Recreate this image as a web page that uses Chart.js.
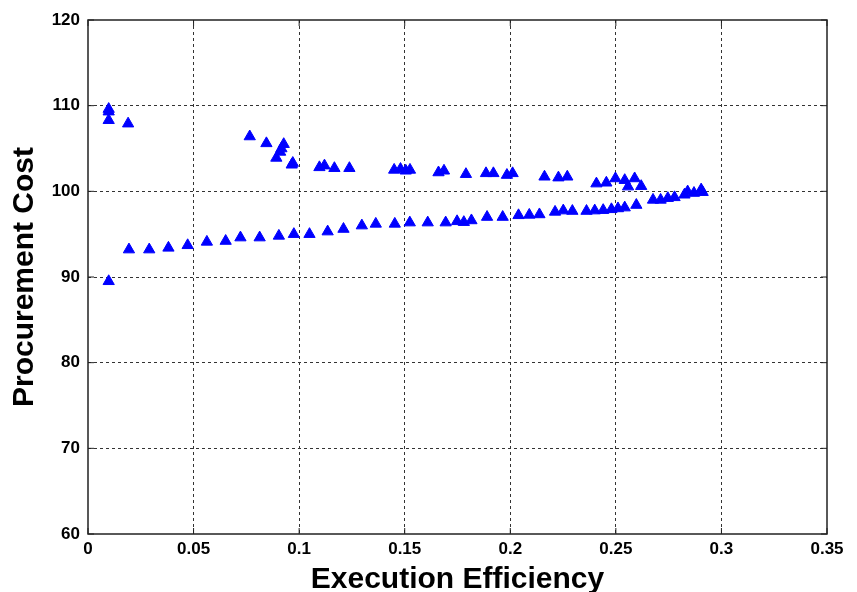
<!DOCTYPE html>
<html>
<head>
<meta charset="utf-8">
<script src="https://cdn.jsdelivr.net/npm/chart.js@4/dist/chart.umd.min.js"></script>
<style>
  html, body { margin: 0; padding: 0; background: #fff; }
  #wrap { width: 857px; height: 592px; }
</style>
</head>
<body>
<div id="wrap"><canvas id="chart" width="857" height="592"></canvas></div>
<script>
// 坐标轴刻度
const xTicks = [0, 0.05, 0.1, 0.15, 0.2, 0.25, 0.3, 0.35];
const yTicks = [60, 70, 80, 90, 100, 110, 120];

// 上支：成本较高的点
const upperEff = [0.0098, 0.0098, 0.0098, 0.019, 0.0766, 0.0845, 0.0927, 0.0916, 0.091, 0.0892,
  0.097, 0.0965, 0.1096, 0.112, 0.1167, 0.1238, 0.145, 0.148, 0.1505, 0.1525,
  0.166, 0.1686, 0.179, 0.1885, 0.192, 0.1984, 0.2011, 0.2162, 0.2228, 0.227,
  0.2408, 0.2455, 0.2498, 0.2542, 0.2589, 0.2558, 0.262];
const upperCost = [109.6, 109.3, 108.3, 107.9, 106.4, 105.6, 105.5, 105.0, 104.6, 103.9,
  103.3, 103.1, 102.8, 103.0, 102.7, 102.7, 102.5, 102.6, 102.4, 102.5,
  102.2, 102.4, 102.0, 102.1, 102.1, 101.9, 102.1, 101.7, 101.6, 101.7,
  100.9, 101.0, 101.5, 101.3, 101.5, 100.55, 100.6];

// 下支：成本较低的点
const lowerEff = [0.0098, 0.0194, 0.029, 0.0381, 0.0472, 0.0563, 0.0652, 0.0722, 0.0813, 0.0904,
  0.0975, 0.1049, 0.1135, 0.121, 0.1297, 0.1363, 0.1453, 0.1524, 0.1609, 0.1694,
  0.1748, 0.178, 0.1816, 0.189, 0.1964, 0.2039, 0.209, 0.2138, 0.2212, 0.2251,
  0.2294, 0.2361, 0.24, 0.244, 0.2479, 0.251, 0.2542, 0.2597, 0.2676, 0.2712,
  0.2746, 0.2778, 0.2825, 0.284, 0.287, 0.2904, 0.2911];
const lowerCost = [89.5, 93.2, 93.2, 93.4, 93.7, 94.1, 94.2, 94.6, 94.6, 94.8,
  95.0, 95.0, 95.3, 95.6, 96.0, 96.2, 96.2, 96.35, 96.35, 96.35,
  96.5, 96.4, 96.6, 97.0, 97.0, 97.2, 97.25, 97.3, 97.6, 97.75,
  97.7, 97.7, 97.75, 97.8, 97.9, 98.0, 98.1, 98.4, 99.0, 99.0,
  99.2, 99.3, 99.6, 99.97, 99.8, 100.2, 99.9];

const points = [
  ...upperEff.map((x, i) => ({ x, y: upperCost[i] })),
  ...lowerEff.map((x, i) => ({ x, y: lowerCost[i] }))
];

const FONT = 'Liberation Sans, Arial, sans-serif';

// 画外框和内向刻度（MATLAB 风格）
const boxPlugin = {
  id: 'box',
  afterDraw(chart) {
    const { ctx, chartArea: a, scales } = chart;
    ctx.save();
    ctx.strokeStyle = '#222';
    ctx.lineWidth = 1.5;
    ctx.setLineDash([]);
    ctx.strokeRect(a.left, a.top, a.right - a.left, a.bottom - a.top);
    ctx.lineWidth = 1;
    for (const v of xTicks) {
      const px = scales.x.getPixelForValue(v);
      ctx.beginPath();
      ctx.moveTo(px, a.bottom); ctx.lineTo(px, a.bottom - 6);
      ctx.moveTo(px, a.top); ctx.lineTo(px, a.top + 6);
      ctx.stroke();
    }
    for (const v of yTicks) {
      const py = scales.y.getPixelForValue(v);
      ctx.beginPath();
      ctx.moveTo(a.left, py); ctx.lineTo(a.left + 6, py);
      ctx.moveTo(a.right, py); ctx.lineTo(a.right - 6, py);
      ctx.stroke();
    }
    ctx.restore();
  }
};

new Chart(document.getElementById('chart'), {
  type: 'scatter',
  data: {
    datasets: [{
      data: points,
      pointStyle: 'triangle',
      pointRadius: 6.5,
      pointHoverRadius: 6.5,
      backgroundColor: '#0000ff',
      borderColor: '#0000ff',
      borderWidth: 1
    }]
  },
  options: {
    responsive: false,
    animation: false,
    layout: { padding: { top: 20, right: 30, left: 0, bottom: 0 } },
    plugins: { legend: { display: false }, tooltip: { enabled: false } },
    scales: {
      x: {
        type: 'linear',
        min: 0,
        max: 0.35,
        afterBuildTicks: (s) => { s.ticks = xTicks.map(v => ({ value: v })); },
        afterFit: (s) => { s.height = 58; },
        ticks: {
          color: '#000',
          font: { family: FONT, size: 17, weight: 'bold' },
          padding: 5,
          maxRotation: 0,
          callback: (v) => String(v)
        },
        grid: {
          color: (c) => (c.tick && (c.tick.value === 0 || c.tick.value === 0.35)) ? 'rgba(0,0,0,0)' : '#333',
          lineWidth: 1,
          drawTicks: false
        },
        border: { display: false, dash: [3, 3] },
        title: {
          display: true,
          text: 'Execution Efficiency',
          color: '#000',
          font: { family: FONT, size: 30, weight: 'bold', lineHeight: 0.8 },
          padding: { top: 0, bottom: 0 }
        }
      },
      y: {
        type: 'linear',
        min: 60,
        max: 120,
        afterBuildTicks: (s) => { s.ticks = yTicks.map(v => ({ value: v })); },
        afterFit: (s) => { s.width = 88; },
        ticks: {
          color: '#000',
          font: { family: FONT, size: 17, weight: 'bold' },
          padding: 8
        },
        grid: {
          color: (c) => (c.tick && (c.tick.value === 60 || c.tick.value === 120)) ? 'rgba(0,0,0,0)' : '#333',
          lineWidth: 1,
          drawTicks: false
        },
        border: { display: false, dash: [3, 3] },
        title: {
          display: true,
          text: 'Procurement Cost',
          color: '#000',
          font: { family: FONT, size: 30, weight: 'bold', lineHeight: 1.2 },
          padding: { top: 7, bottom: 0 }
        }
      }
    }
  },
  plugins: [boxPlugin]
});
</script>
</body>
</html>
